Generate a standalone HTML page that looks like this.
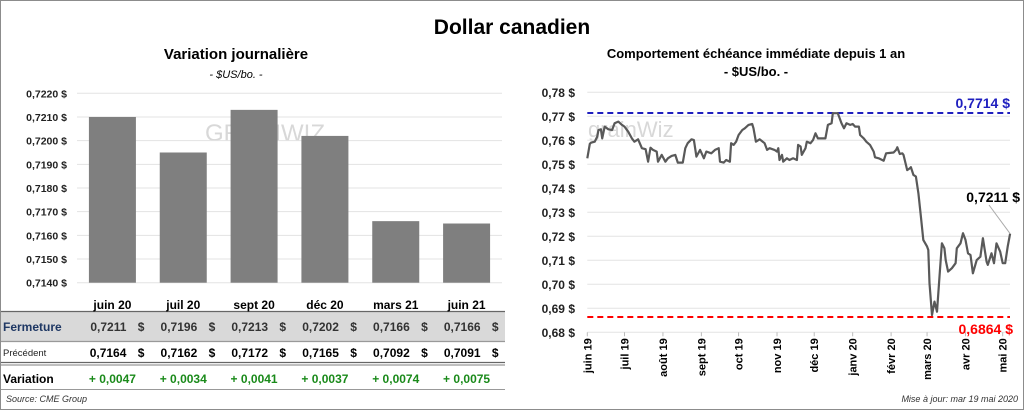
<!DOCTYPE html>
<html><head><meta charset="utf-8">
<style>
html,body{margin:0;padding:0;background:#fff;}
body{width:1024px;height:410px;overflow:hidden;font-family:"Liberation Sans",sans-serif;}
svg text{font-family:"Liberation Sans",sans-serif;}
</style></head>
<body>
<svg id="root" width="1024" height="410" viewBox="0 0 1024 410">
<rect x="0.5" y="0.5" width="1023" height="409" fill="#fff" stroke="#8c8c8c"/>
<text x="512" y="34" text-anchor="middle" font-size="21" font-weight="bold" fill="#000">Dollar canadien</text>
<text x="236" y="59" text-anchor="middle" font-size="15" font-weight="bold">Variation  journalière</text>
<text x="236" y="78" text-anchor="middle" font-size="11" font-style="italic">- $US/bo. -</text>
<text x="756" y="58" text-anchor="middle" font-size="13" font-weight="bold">Comportement échéance immédiate depuis 1 an</text>
<text x="756" y="76" text-anchor="middle" font-size="13" font-weight="bold">- $US/bo. -</text>
<g id="left"></g>
<g id="table"></g>
<g id="right"></g>
<text x="6" y="402" font-size="9" font-style="italic" fill="#333">Source: CME Group</text>
<text x="1018" y="402" text-anchor="end" font-size="9" font-style="italic" fill="#333">Mise à jour: mar 19 mai 2020</text>
</svg>
<script>
const NS="http://www.w3.org/2000/svg";
// ---- bar chart data ----
const barCats=["juin 20","juil 20","sept 20","déc 20","mars 21","juin 21"];
const barVals=[0.7210,0.7195,0.7213,0.7202,0.7166,0.7165];
const barTicks=[0.7140,0.7150,0.7160,0.7170,0.7180,0.7190,0.7200,0.7210,0.7220];
const closeVals=["0,7211","0,7196","0,7213","0,7202","0,7166","0,7166"];
const prevVals=["0,7164","0,7162","0,7172","0,7165","0,7092","0,7091"];
const varVals=["+ 0,0047","+ 0,0034","+ 0,0041","+ 0,0037","+ 0,0074","+ 0,0075"];
// ---- line chart data ----
const lineDays=[0,2,3,6,8,9,11,12,14,17,20,22,25,28,30,33,36,38,41,44,47,49,51,53,56,57,60,63,65,68,71,73,77,79,81,84,86,88,91,94,96,100,103,106,107,110,112,115,116,118,120,122,125,127,130,133,134,136,139,143,145,147,151,153,154,155,157,158,161,163,166,169,170,172,173,176,177,180,182,184,186,189,192,194,197,198,201,202,205,207,209,212,214,216,219,220,223,225,228,231,232,235,239,241,247,249,250,252,254,255,258,260,261,263,265,267,269,271,274,275,276,278,280,282,284,286,288,289,291,294,297,298,301,303,305,307,309,311,314,317,319,322,323,326,328,330,333,335,337,339,341];
const lineVals=[0.7525,0.7585,0.7590,0.7594,0.7615,0.7643,0.7646,0.7608,0.7657,0.7646,0.7643,0.7671,0.7678,0.7664,0.7657,0.7636,0.7608,0.7594,0.7604,0.7567,0.7563,0.7511,0.7569,0.7560,0.7553,0.7511,0.7539,0.7511,0.7525,0.7535,0.7539,0.7507,0.7507,0.7567,0.7588,0.7604,0.7601,0.7532,0.7560,0.7525,0.7553,0.7546,0.7560,0.7567,0.7511,0.7507,0.7518,0.7511,0.7588,0.7581,0.7594,0.7622,0.7643,0.7650,0.7664,0.7668,0.7650,0.7594,0.7604,0.7588,0.7560,0.7567,0.7560,0.7553,0.7567,0.7518,0.7539,0.7511,0.7525,0.7518,0.7525,0.7518,0.7581,0.7574,0.7539,0.7567,0.7594,0.7588,0.7601,0.7629,0.7608,0.7608,0.7608,0.7664,0.7671,0.7713,0.7713,0.7713,0.7671,0.7650,0.7671,0.7664,0.7668,0.7657,0.7657,0.7622,0.7608,0.7594,0.7581,0.7553,0.7529,0.7525,0.7515,0.7546,0.7549,0.7560,0.7571,0.7543,0.7546,0.7539,0.7476,0.7483,0.7488,0.7456,0.7449,0.7379,0.7282,0.7185,0.7157,0.7143,0.7004,0.6872,0.6928,0.6886,0.7032,0.7171,0.7150,0.7101,0.7053,0.7067,0.7088,0.7150,0.7171,0.7213,0.7185,0.7129,0.7122,0.7046,0.7101,0.7115,0.7192,0.7094,0.7081,0.7129,0.7088,0.7171,0.7136,0.7088,0.7088,0.7157,0.7211];
const lineTicks=[0.68,0.69,0.70,0.71,0.72,0.73,0.74,0.75,0.76,0.77,0.78];
const monthLabels=["juin 19","juil 19","août 19","sept 19","oct 19","nov 19","déc 19","janv 20","févr 20","mars 20","avr 20","mai 20"];
const monthDays=[0,30,61,92,122,153,183,214,245,274,305,335];
const highVal=0.7714, lowVal=0.6864, lastLabel="0,7211 $";

function el(tag,attrs,parent,txt){const e=document.createElementNS(NS,tag);for(const k in attrs)e.setAttribute(k,attrs[k]);if(txt!==undefined)e.textContent=txt;parent.appendChild(e);return e;}
const fmt4=v=>v.toFixed(4).replace('.',',');
const fmt2=v=>v.toFixed(2).replace('.',',');

// ---- left bar chart ----
const L=document.getElementById('left');
const bx0=77,bx1=502,by0=0.7140,by1=0.7220,byTop=93.3,byBot=282.7;
const yB=v=>byBot-(v-by0)/(by1-by0)*(byBot-byTop);
const band=(bx1-bx0)/barCats.length;
const xB=i=>bx0+band*(i+0.5);
// watermark
let w=el('text',{x:205,y:141,'font-size':'24',fill:'#d8d8d8'},L,'GRAINWIZ');


barTicks.forEach(t=>{
  let g=el('line',{x1:bx0,x2:bx1,y1:yB(t),y2:yB(t),stroke:'#e3e3e3','stroke-width':1},L);
  
  
  let tx=el('text',{x:67,y:yB(t)+4,'text-anchor':'end','font-size':'10.5','font-weight':'bold',fill:'#222'},L,fmt4(t)+' $');
  
  
});
barVals.forEach((v,i)=>{
  let r=el('rect',{x:xB(i)-23.5,y:yB(v),width:47,height:yB(by0)-yB(v),fill:'#7f7f7f'},L);
  
  
});
// ---- table ----
const T=document.getElementById('table');
let bg=el('rect',{x:1,y:312,width:504,height:29,fill:'#d9d9d9'},T);


[[311.5,'#666'],[341.5,'#999'],[362.5,'#666'],[365,'#999']].forEach(([y,c])=>{
  let ln=el('line',{x1:1,x2:505,y1:y,y2:y,stroke:c,'stroke-width':1.2},T);
  
  
});
let rl;
rl=el('text',{x:3,y:331,'font-size':'12','font-weight':'bold',fill:'#1f3864'},T,'Fermeture');


rl=el('text',{x:3,y:356,'font-size':'9.5',fill:'#222'},T,'Précédent');


rl=el('text',{x:3,y:383,'font-size':'12','font-weight':'bold',fill:'#000'},T,'Variation');


barCats.forEach((c,i)=>{
  const cx=xB(i);
  let h=el('text',{x:cx,y:309,'text-anchor':'middle','font-size':'12','font-weight':'bold'},T,c);
  
  
  let a=el('text',{x:cx+14,y:331,'text-anchor':'end','font-size':'12','font-weight':'bold',fill:'#333'},T,closeVals[i]);
  
  
  let a2=el('text',{x:cx+32,y:331,'text-anchor':'end','font-size':'12','font-weight':'bold',fill:'#333'},T,'$');
  
  
  let p=el('text',{x:cx+14,y:357,'text-anchor':'end','font-size':'12','font-weight':'bold'},T,prevVals[i]);
  
  
  let p2=el('text',{x:cx+32,y:357,'text-anchor':'end','font-size':'12','font-weight':'bold'},T,'$');
  
  
  let v=el('text',{x:cx,y:383,'text-anchor':'middle','font-size':'12','font-weight':'bold',fill:'#1a8a1a'},T,varVals[i]);
  
  
});
let lr=el('line',{x1:1,x2:505,y1:389.5,y2:389.5,stroke:'#999','stroke-width':1},T);



// ---- right line chart ----
const R=document.getElementById('right');
const rx0=587.3,rdx=(1002.7-587.3)/335,ryTop=92.3,ryBot=332.3,ry0=0.68,ry1=0.78;
const xD=d=>rx0+d*rdx;
const yV=v=>ryBot-(v-ry0)/(ry1-ry0)*(ryBot-ryTop);
let w2=el('text',{x:588,y:137,'font-size':'22',fill:'#d8d8d8'},R,'grainWiz');


lineTicks.forEach(t=>{
  let g=el('line',{x1:rx0,x2:1010,y1:yV(t),y2:yV(t),stroke:'#e3e3e3','stroke-width':1},R);
  
  
  let tx=el('text',{x:575,y:yV(t)+4.5,'text-anchor':'end','font-size':'12','font-weight':'bold',fill:'#222'},R,fmt2(t)+' $');
  
  
});
monthDays.forEach((d,i)=>{
  const x=xD(d);
  let tk=el('line',{x1:x,x2:x,y1:ryBot,y2:ryBot+4,stroke:'#bbb'},R);
  
  
  let tx=el('text',{x:0,y:0,transform:`translate(${x+4},${ryBot+6}) rotate(-90)`,'text-anchor':'end','font-size':'11','font-weight':'bold'},R,monthLabels[i]);
  
  
});
let hl=el('line',{x1:rx0,x2:1010,y1:yV(highVal),y2:yV(highVal),stroke:'#1f1fbf','stroke-width':2,'stroke-dasharray':'6,4'},R);


let ll=el('line',{x1:rx0,x2:1010,y1:yV(lowVal),y2:yV(lowVal),stroke:'#ff0000','stroke-width':2,'stroke-dasharray':'6,4'},R);


const pts=lineDays.map((d,i)=>xD(d).toFixed(1)+','+yV(lineVals[i]).toFixed(1)).join(' ');
let pl=el('polyline',{points:pts,fill:'none',stroke:'#595959','stroke-width':2.2,'stroke-linejoin':'round'},R);


let ht=el('text',{x:1010,y:yV(highVal)-5,'text-anchor':'end','font-size':'14','font-weight':'bold',fill:'#1f1fbf'},R,fmt4(highVal)+' $');


let lt=el('text',{x:1013,y:yV(lowVal)+17,'text-anchor':'end','font-size':'14','font-weight':'bold',fill:'#ff0000'},R,fmt4(lowVal)+' $');


const lastX=xD(lineDays[lineDays.length-1]),lastY=yV(lineVals[lineVals.length-1]);
let ld=el('line',{x1:989,y1:205,x2:lastX,y2:lastY,stroke:'#aaa','stroke-width':1},R);


let lv=el('text',{x:1020,y:202,'text-anchor':'end','font-size':'14','font-weight':'bold'},R,lastLabel);


</script>
</body></html>
